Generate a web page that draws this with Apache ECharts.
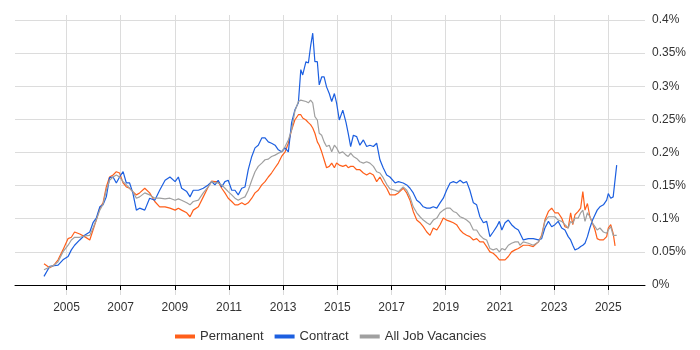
<!DOCTYPE html>
<html>
<head>
<meta charset="utf-8">
<script src="https://cdn.jsdelivr.net/npm/echarts@6/dist/echarts.min.js"></script>
<style>
html,body{margin:0;padding:0;background:#fff;}
#chart{width:700px;height:350px;}
</style>
</head>
<body>
<div id="chart"></div>
<script>
// Decimal years of the sampled points
const dates = [2004.17,2004.38,2004.54,2004.69,2004.87,2005.06,2005.18,2005.30,2005.49,2005.67,2005.86,2005.98,
2006.10,2006.23,2006.35,2006.47,2006.59,2006.72,2006.84,2006.96,2007.09,2007.21,2007.33,2007.45,2007.58,2007.70,2007.89,
2008.07,2008.26,2008.44,2008.64,2008.82,2009.01,2009.13,2009.25,2009.44,2009.56,2009.68,2009.87,
2010.05,2010.23,2010.36,2010.48,2010.60,2010.73,2010.85,2010.97,2011.10,2011.22,2011.34,2011.47,2011.59,2011.71,2011.84,2011.96,
2012.08,2012.21,2012.33,2012.45,2012.57,2012.70,2012.82,2012.94,2013.07,2013.19,2013.31,2013.43,2013.56,2013.65,2013.72,2013.84,2013.93,
2014.01,2014.09,2014.17,2014.26,2014.33,2014.42,2014.51,2014.60,2014.70,2014.79,2014.89,2014.97,
2015.07,2015.20,2015.32,2015.40,2015.49,2015.59,2015.71,2015.83,2015.96,2016.08,2016.20,2016.33,2016.45,2016.57,2016.69,2016.82,2016.94,
2017.13,2017.25,2017.43,2017.56,2017.68,2017.80,2017.93,2018.05,2018.17,2018.30,2018.42,2018.54,2018.67,2018.79,2018.91,
2019.03,2019.16,2019.28,2019.40,2019.53,2019.65,2019.77,2019.89,2020.02,2020.14,2020.26,2020.39,2020.51,2020.63,2020.75,2020.88,2020.98,
2021.07,2021.19,2021.31,2021.43,2021.56,2021.68,2021.74,2021.86,2022.05,2022.23,2022.42,2022.54,2022.66,2022.79,2022.91,
2023.03,2023.15,2023.28,2023.40,2023.52,2023.61,2023.69,2023.77,2023.89,2023.98,2024.06,2024.14,2024.23,2024.32,2024.42,2024.51,2024.59,2024.69,2024.82,2024.94,
2025.00,2025.09,2025.18,2025.25,2025.31];

// Permanent (%)
const permanent = [0.032,0.026,0.030,0.038,0.053,0.070,0.072,0.080,0.077,0.073,0.068,0.083,
0.098,0.116,0.124,0.148,0.163,0.166,0.171,0.169,0.154,0.148,0.146,0.141,0.136,0.139,0.146,
0.139,0.126,0.118,0.118,0.116,0.113,0.116,0.113,0.109,0.103,0.113,0.118,
0.133,0.148,0.157,0.156,0.156,0.146,0.139,0.131,0.126,0.121,0.121,0.124,0.121,0.124,0.131,0.139,
0.143,0.151,0.156,0.163,0.169,0.177,0.184,0.194,0.201,0.214,0.234,0.249,0.257,0.257,0.252,0.249,0.245,
0.242,0.237,0.229,0.216,0.211,0.201,0.189,0.177,0.179,0.184,0.177,0.184,
0.181,0.179,0.181,0.177,0.179,0.179,0.174,0.174,0.169,0.166,0.169,0.166,0.156,0.163,0.154,0.146,0.136,
0.136,0.139,0.146,0.139,0.128,0.111,0.098,0.094,0.088,0.080,0.075,0.086,0.083,0.091,0.101,
0.098,0.096,0.094,0.091,0.083,0.078,0.075,0.073,0.068,0.070,0.065,0.065,0.058,0.050,0.048,0.043,0.038,
0.038,0.038,0.043,0.050,0.053,0.055,0.055,0.060,0.060,0.058,0.065,0.075,0.098,0.111,0.116,
0.109,0.109,0.101,0.088,0.086,0.109,0.091,0.106,0.111,0.116,0.141,0.113,0.123,0.103,0.093,0.083,0.070,0.068,0.068,0.073,
0.086,0.091,0.078,0.059,null];

// Contract (%)
const contract = [0.013,0.028,0.029,0.030,0.038,0.043,0.053,0.060,0.068,0.075,0.080,0.094,
0.101,0.118,0.121,0.133,0.162,0.163,0.154,0.163,0.171,0.154,0.154,0.139,0.113,0.116,0.113,
0.131,0.128,0.143,0.158,0.163,0.156,0.163,0.146,0.141,0.133,0.143,0.143,
0.146,0.151,0.156,0.151,0.158,0.148,0.156,0.158,0.143,0.143,0.136,0.146,0.148,0.174,0.194,0.207,
0.211,0.222,0.222,0.216,0.214,0.211,0.204,0.201,0.207,0.201,0.245,0.264,0.275,0.325,0.317,0.337,0.335,
0.360,0.380,0.337,0.337,0.302,0.314,0.314,0.299,0.289,0.277,0.289,0.275,
0.249,0.264,0.245,0.229,0.209,0.226,0.224,0.211,0.219,0.209,0.211,0.209,0.214,0.189,0.177,0.166,0.163,
0.154,0.156,0.154,0.151,0.146,0.139,0.128,0.124,0.118,0.116,0.116,0.118,0.116,0.124,0.131,
0.143,0.154,0.156,0.154,0.158,0.154,0.156,0.143,0.124,0.121,0.103,0.094,0.096,0.073,0.080,0.088,0.096,
0.083,0.094,0.098,0.091,0.086,0.083,0.078,0.068,0.070,0.070,0.068,0.070,0.086,0.096,0.088,
0.091,0.096,0.086,0.083,0.073,0.068,0.060,0.053,0.055,0.058,0.060,0.063,0.073,0.086,0.098,0.106,0.113,0.118,0.121,0.128,
0.138,0.131,0.133,0.136,0.181];

// All Job Vacancies (%)
const allJobs = [0.023,0.027,0.030,0.035,0.050,0.060,0.068,0.072,0.072,0.074,0.075,0.086,
0.098,0.113,0.122,0.143,0.158,0.163,0.166,0.163,0.156,0.151,0.146,0.141,0.131,0.133,0.139,
0.136,0.131,0.131,0.130,0.131,0.128,0.130,0.128,0.124,0.121,0.126,0.128,
0.139,0.148,0.156,0.154,0.154,0.151,0.146,0.141,0.136,0.131,0.128,0.131,0.133,0.143,0.158,0.171,
0.179,0.184,0.189,0.190,0.194,0.196,0.199,0.201,0.209,0.219,0.234,0.262,0.277,0.279,0.277,0.277,0.275,
0.279,0.275,0.254,0.249,0.229,0.226,0.216,0.209,0.211,0.201,0.211,0.207,
0.199,0.201,0.196,0.194,0.199,0.194,0.191,0.186,0.184,0.186,0.184,0.179,0.171,0.169,0.162,0.152,0.145,
0.143,0.141,0.148,0.143,0.133,0.118,0.109,0.103,0.098,0.094,0.091,0.098,0.101,0.109,0.113,
0.116,0.116,0.111,0.109,0.103,0.101,0.098,0.094,0.083,0.083,0.075,0.070,0.068,0.055,0.053,0.055,0.050,
0.055,0.053,0.060,0.063,0.065,0.065,0.060,0.065,0.063,0.060,0.065,0.073,0.096,0.103,0.103,
0.103,0.098,0.096,0.091,0.086,0.096,0.093,0.101,0.101,0.109,0.113,0.096,0.109,0.103,0.093,0.088,0.083,0.086,0.080,0.078,
0.083,0.088,0.075,0.073,0.075];

const yearTicks = [2005,2007,2009,2011,2013,2015,2017,2019,2021,2023,2025];
const pctTicks = [0,0.05,0.1,0.15,0.2,0.25,0.3,0.35,0.4];
const seriesNames = ['Permanent','Contract','All Job Vacancies'];
const seriesColors = ['#FF5F1A','#1C5FE0','#A0A0A0'];

const font = 'Liberation Sans, Arial, sans-serif';
const chart = echarts.init(document.getElementById('chart'), null, {renderer:'canvas'});
const valuesList = [permanent, contract, allJobs];

chart.setOption({
  animation:false,
  backgroundColor:'#fff',
  textStyle:{fontFamily:font},
  grid:{left:15,right:55,top:15,bottom:55},
  legend:{
    data:seriesNames,
    bottom:2,
    left:170,
    icon:'rect',
    itemWidth:20,
    itemHeight:4,
    itemGap:11,
    textStyle:{fontSize:13,color:'#333',fontFamily:font}
  },
  xAxis:{
    type:'value',
    min:2003.1,
    max:2026.355,
    axisLine:{show:true,lineStyle:{color:'#000',width:1}},
    axisTick:{show:true,length:5,lineStyle:{color:'#000'},customValues:yearTicks},
    axisLabel:{customValues:yearTicks,color:'#333',fontSize:12,margin:7,fontFamily:font,formatter:v=>String(Math.round(v))},
    splitLine:{show:true,lineStyle:{color:'#dcdcdc',width:1}}
  },
  yAxis:{
    type:'value',
    position:'right',
    min:-0.0151,
    max:0.4075,
    axisLine:{show:false},
    axisTick:{show:false,customValues:pctTicks},
    axisLabel:{customValues:pctTicks,color:'#333',fontSize:12,margin:7,fontFamily:font,
      formatter:v=>parseFloat(v.toFixed(3))+'%'},
    splitLine:{show:true,lineStyle:{color:'#dcdcdc',width:1}}
  },
  series:seriesNames.map((name,k)=>({
    name:name,
    type:'line',
    showSymbol:false,
    symbol:'none',
    color:seriesColors[k],
    lineStyle:{width:1.2,color:seriesColors[k]},
    data:dates.map((d,i)=>[d,valuesList[k][i]])
  }))
});
</script>
</body>
</html>
